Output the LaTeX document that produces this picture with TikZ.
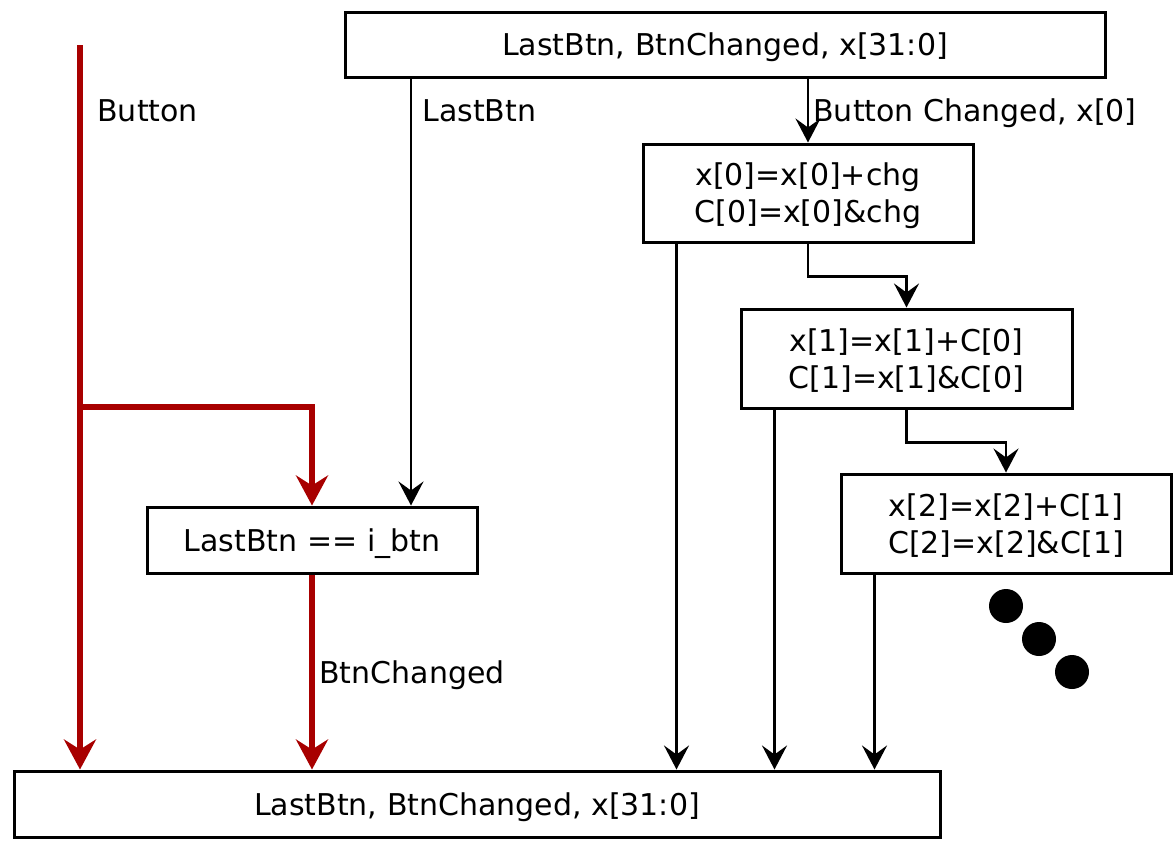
\documentclass[tikz,border=0pt]{standalone}
\usepackage{fontspec}
\setmainfont{DejaVu Sans}
\usetikzlibrary{arrows.meta}
\definecolor{sigred}{RGB}{168,0,0}
\begin{document}
\begin{tikzpicture}[x=0.5pt,y=-0.5pt,
  box/.style={draw=black,line width=1.5pt,fill=white,inner sep=0pt,align=center,
    text depth=0pt,font=\fontsize{15}{18.5}\selectfont},
  lbl/.style={inner sep=0pt,anchor=base west,font=\fontsize{15}{18.5}\selectfont},
  arr/.style={draw=black,line width=1.4pt,line join=miter,
    -{Stealth[length=12pt,width=12.5pt,inset=4.5pt]}},
  redarr/.style={draw=sigred,line width=2.7pt,line join=miter,
    -{Stealth[length=15pt,width=16pt,inset=5pt]}}]
\useasboundingbox (0,0) rectangle (1173,848);
% boxes
\node[box,minimum width=380pt,minimum height=32.5pt] (top) at (725,44.5) {LastBtn, BtnChanged, x[31:0]};
\node[box,minimum width=165pt,minimum height=49pt] (x0) at (808,193) {x[0]=x[0]+chg\\C[0]=x[0]\&chg};
\node[box,minimum width=165.5pt,minimum height=49.5pt] (x1) at (906.5,358.5) {x[1]=x[1]+C[0]\\C[1]=x[1]\&C[0]};
\node[box,minimum width=165pt,minimum height=49.5pt] (x2) at (1006,523.5) {x[2]=x[2]+C[1]\\C[2]=x[2]\&C[1]};
\node[box,minimum width=165pt,minimum height=33pt] (ib) at (312,540) {LastBtn == i\_btn};
\node[box,minimum width=463pt,minimum height=33pt] (bot) at (477,804) {LastBtn, BtnChanged, x[31:0]};
% coordinates
\coordinate (bs) at (80,45);
\coordinate (br) at (80,407);
\coordinate (lb) at (411,0);
\coordinate (d0) at ([xshift=17.5pt]x0.south west);
\coordinate (d1) at ([xshift=17.5pt]x1.south west);
\coordinate (d2) at ([xshift=17.5pt]x2.south west);
% black connectors
\draw[arr] (top.south -| lb) -- (ib.north -| lb);
\draw[arr] (x0.north |- top.south) -- (x0.north);
\draw[arr] (x0.south) -- ++(0,33) -| (x1.north);
\draw[arr] (x1.south) -- ++(0,33) -| (x2.north);
\draw[arr] (d0) -- (d0 |- bot.north);
\draw[arr] (d1) -- (d1 |- bot.north);
\draw[arr] (d2) -- (d2 |- bot.north);
% red connectors
\draw[redarr] (bs) -- (bs |- bot.north);
\draw[redarr] (br) -| (ib.north);
\draw[redarr] (ib.south) -- (ib.south |- bot.north);
% labels
\node[lbl] (lButton) at (97,121) {Button};
\node[lbl] (lLast) at (422,121) {LastBtn};
\node[lbl] (lChg) at (813,121) {Button Changed, x[0]};
\node[lbl] (lBtnChg) at (319,683) {BtnChanged};
% dots
\fill (1006,606) circle (8.5pt);
\fill (1039,639) circle (8.5pt);
\fill (1072,672) circle (8.5pt);
\end{tikzpicture}
\end{document}
